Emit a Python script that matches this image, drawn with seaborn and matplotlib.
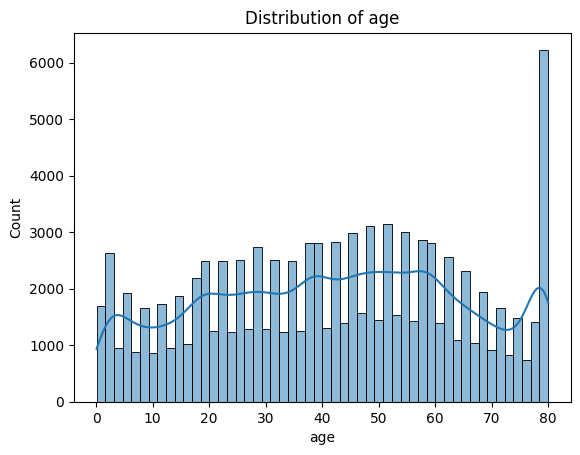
import numpy as np
import pandas as pd
import seaborn as sns
import matplotlib
matplotlib.use("Agg")
import matplotlib.pyplot as plt

# age range of the data and number of histogram bins
age_min = 0.08
age_max = 80.0
n_bins = 52

# counts per bin (left to right)
counts = [1695, 2634, 951, 1925, 892, 1659, 862, 1730, 951, 1872,
          1021, 2191, 2492, 1252, 2492, 1234, 2510, 1287, 2740, 1287,
          2510, 1234, 2492, 1252, 2811, 2811, 1305, 2829, 1394, 2988,
          1571, 3113, 1453, 3148, 1541, 3006, 1435, 2864, 2811, 1394,
          2563, 1093, 2315, 1039, 1943, 915, 1659, 827, 1482, 738,
          1411, 6223]

edges = np.linspace(age_min, age_max, n_bins + 1)
centers = (edges[:-1] + edges[1:]) / 2
df = pd.DataFrame({"age": centers, "count": counts})

# weighted points -> scale bandwidth back to roughly what the raw rows give
w = np.array(counts, dtype=float)
neff = w.sum() ** 2 / (w ** 2).sum()
bw = 1.12 * (neff / w.sum()) ** 0.2

fig = plt.figure(figsize=(5.8, 4.55), dpi=100)
ax = fig.add_axes([0.1276, 0.1165, 0.8564, 0.8117])

sns.histplot(data=df, x="age", weights="count", bins=n_bins,
             binrange=(age_min, age_max), kde=True,
             kde_kws={"bw_adjust": bw, "cut": 3, "clip": (age_min, age_max)},
             ax=ax)

ax.set_title("Distribution of age", fontsize=12)
ax.set_xlabel("age")
ax.set_ylabel("Count")

fig.savefig("out.png", dpi=100)
